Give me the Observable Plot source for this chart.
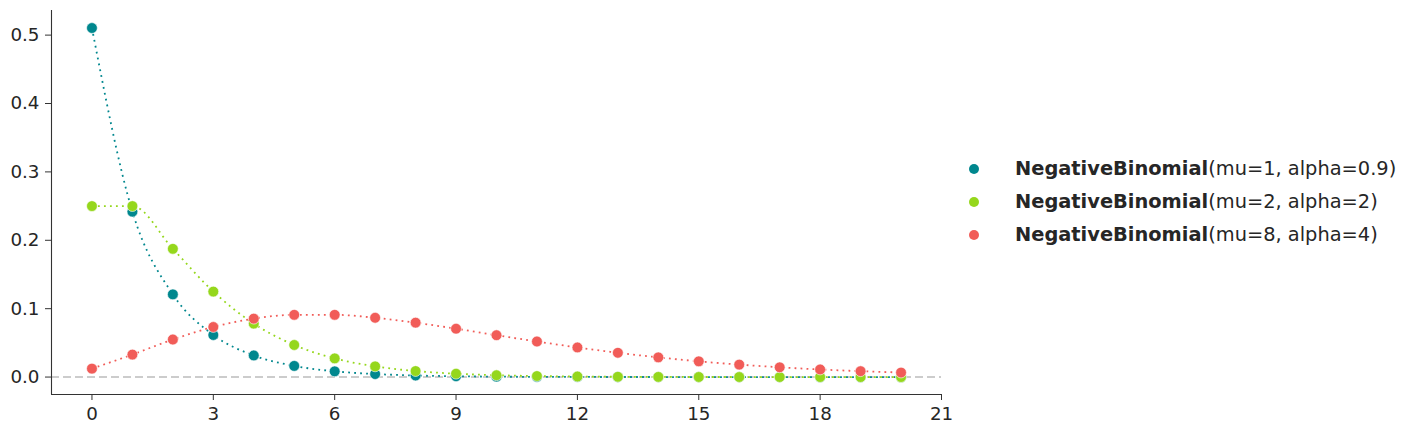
<!DOCTYPE html>
<html>
<head>
<meta charset="utf-8">
<script src="https://cdn.jsdelivr.net/npm/d3@7"></script>
<script src="https://cdn.jsdelivr.net/npm/@observablehq/plot@0.6"></script>
<style>
  html, body { margin: 0; padding: 0; background: #fff; }
  #wrap { position: relative; width: 1415px; height: 433px; font-family: "DejaVu Sans", sans-serif; }
  #wrap svg text { font-size: 18.3px !important; font-family: "DejaVu Sans", sans-serif; }
  #legend { position: absolute; left: 969px; top: 152px; color: #262626; font-size: 19.4px; white-space: nowrap; }
  .item { display: flex; align-items: center; height: 33px; }
  .sw { width: 10px; height: 10px; border-radius: 50%; margin-right: 36px; flex: none; }
  .item b { font-weight: bold; }
</style>
</head>
<body>
<div id="wrap"><div id="legend"></div></div>
<script>
const ks = d3.range(0, 21);
const seriesNames = ["NegativeBinomial(mu=1, alpha=0.9)", "NegativeBinomial(mu=2, alpha=2)", "NegativeBinomial(mu=8, alpha=4)"];
const seriesBold = ["NegativeBinomial", "NegativeBinomial", "NegativeBinomial"];
const seriesRest = ["(mu=1, alpha=0.9)", "(mu=2, alpha=2)", "(mu=8, alpha=4)"];
const colors = ["#00878e", "#95d71c", "#f15c58"];
const s1 = [0.5104, 0.2418, 0.1209, 0.0615, 0.0316, 0.0163, 0.0084, 0.0044, 0.0023, 0.0012, 0.0006, 0.0003, 0.00017, 0.00009, 0.00005, 0.00002, 0.00001, 0.000007, 0.000003, 0.000002, 0.000001];
const s2 = [0.25, 0.25, 0.1875, 0.125, 0.0781, 0.0469, 0.0273, 0.0156, 0.0088, 0.0049, 0.0027, 0.0015, 0.0008, 0.0004, 0.0002, 0.0001, 0.00006, 0.00003, 0.00002, 0.00001, 0.000005];
const s3 = [0.0123, 0.0329, 0.0549, 0.0732, 0.0854, 0.0910, 0.0910, 0.0867, 0.0795, 0.0707, 0.0612, 0.0520, 0.0433, 0.0355, 0.0288, 0.0230, 0.0182, 0.0143, 0.0111, 0.0086, 0.0066];
const xTicks = [0, 3, 6, 9, 12, 15, 18, 21];
const yTicks = [0.0, 0.1, 0.2, 0.3, 0.4, 0.5];
const xDomain = [-1, 21];
const yDomain = [-0.0255, 0.536];

const allSeries = [s1, s2, s3];
const data = allSeries.flatMap((s, i) => s.map((v, j) => ({k: ks[j], p: v, series: seriesNames[i]})));

const textColor = "#262626";
const tickFont = 18.3;
const plot = Plot.plot({
  width: 1415,
  height: 433,
  marginLeft: 51,
  marginRight: 474,
  marginTop: 10,
  marginBottom: 39,
  style: {fontFamily: "DejaVu Sans, sans-serif", fontSize: tickFont + "px", color: textColor, background: "transparent"},
  x: {domain: xDomain, ticks: xTicks, tickFormat: d => String(d)},
  y: {domain: yDomain, ticks: yTicks, tickFormat: d3.format(".1f")},
  color: {domain: seriesNames, range: colors},
  marks: [
    Plot.ruleY([0], {stroke: "#cccccc", strokeWidth: 2, strokeDasharray: "8,4"}),
    ...allSeries.map((s, i) => Plot.line(data.filter(d => d.series === seriesNames[i]), {
      x: "k", y: "p", stroke: colors[i], strokeWidth: 1.8, strokeDasharray: "1.8,4.2", strokeLinecap: "butt", curve: "monotone-x"
    })),
    ...allSeries.map((s, i) => Plot.dot(data.filter(d => d.series === seriesNames[i]), {
      x: "k", y: "p", fill: colors[i], r: 5.4, stroke: "white", strokeWidth: 0.6
    })),
    Plot.ruleX([xDomain[0]], {stroke: "#333333", strokeWidth: 1.1}),
    Plot.ruleY([yDomain[0]], {stroke: "#333333", strokeWidth: 1.1}),
    Plot.axisX({ticks: xTicks, tickSize: 6, tickPadding: 6, stroke: "#333333", fill: textColor, fontSize: tickFont, label: null, tickFormat: d => String(d)}),
    Plot.axisY({ticks: yTicks, tickSize: 6, tickPadding: 6, stroke: "#333333", fill: textColor, fontSize: tickFont, label: null, tickFormat: d3.format(".1f")})
  ]
});
document.getElementById("wrap").prepend(plot);

const legend = document.getElementById("legend");
seriesNames.forEach((name, i) => {
  const item = document.createElement("div");
  item.className = "item";
  const sw = document.createElement("span");
  sw.className = "sw";
  sw.style.background = colors[i];
  const t = document.createElement("span");
  const b = document.createElement("b");
  b.textContent = seriesBold[i];
  t.appendChild(b);
  t.appendChild(document.createTextNode(seriesRest[i]));
  item.appendChild(sw);
  item.appendChild(t);
  legend.appendChild(item);
});
</script>
</body>
</html>
